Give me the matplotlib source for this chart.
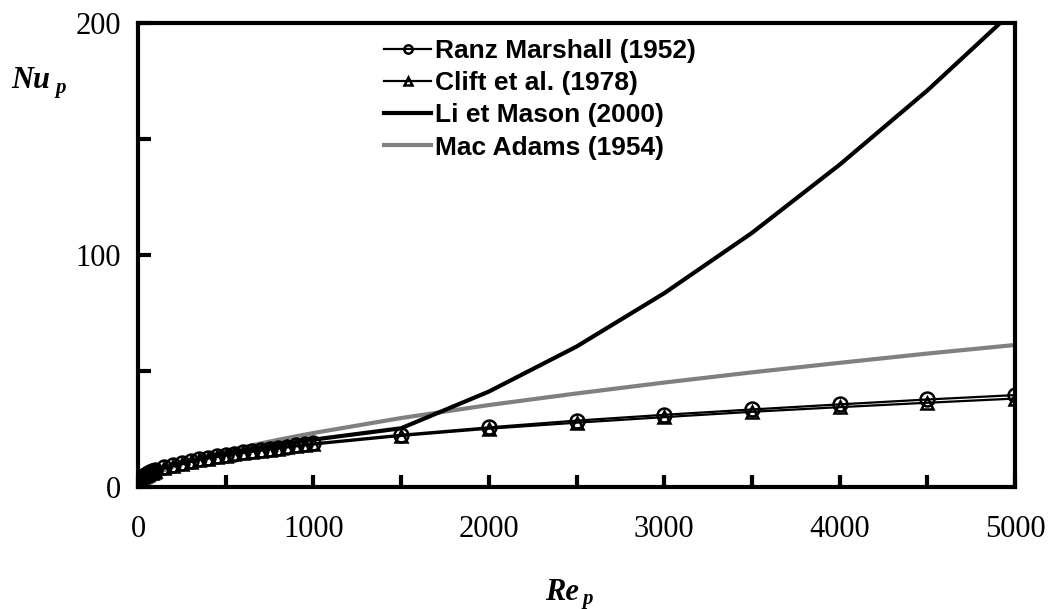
import numpy as np
import matplotlib
matplotlib.use('Agg')
import matplotlib.pyplot as plt
from matplotlib.ticker import MultipleLocator

# Re_p sampling points
re_pts = [1, 5, 10, 20, 30, 40, 50, 60, 70, 80, 90, 100, 150, 200, 250, 300, 350,
          400, 450, 500, 550, 600, 650, 700, 750, 800, 850, 900, 950, 1000,
          1500, 2000, 2500, 3000, 3500, 4000, 4500, 5000]

ranz = [2.53, 3.19, 3.69, 4.38, 4.92, 5.37, 5.77, 6.13, 6.46, 6.77, 7.06, 7.33, 8.53,
        9.54, 10.43, 11.23, 11.97, 12.66, 13.31, 13.92, 14.50, 15.06, 15.59, 16.10,
        16.60, 17.08, 17.54, 17.99, 18.43, 18.86,
        22.6, 25.8, 28.7, 31.2, 33.5, 35.7, 37.8, 39.7]

clift = [2.2, 2.8, 3.2, 3.9, 4.4, 4.8, 5.2, 5.6, 5.96, 6.28, 6.59, 6.87, 8.11,
         9.14, 10.05, 10.86, 11.61, 12.30, 12.94, 13.55, 14.13, 14.68, 15.21, 15.71,
         16.20, 16.67, 17.13, 17.57, 17.99, 18.41,
         22.1, 25.2, 27.8, 30.2, 32.5, 34.5, 36.4, 38.2]

li_mason = [2.53, 3.19, 3.69, 4.38, 4.92, 5.37, 5.77, 6.13, 6.46, 6.77, 7.06, 7.33, 8.53,
            9.51, 10.49, 11.39, 12.24, 13.02, 13.77, 14.49, 15.18, 15.85, 16.48, 17.10,
            17.70, 18.29, 18.86, 19.42, 19.97, 20.50,
            25.4, 41.2, 60.6, 83.6, 109.6, 139.0, 171.0, 206.0]

re_mac = [20, 50, 100, 200, 300, 400, 500, 600, 700, 800, 900, 1000,
          1500, 2000, 2500, 3000, 3500, 4000, 4500, 5000]
mac_adams = [2.23, 3.87, 5.86, 8.89, 11.34, 13.47, 15.40, 17.19, 18.86, 20.43, 21.91, 23.35,
             29.8, 35.4, 40.4, 45.1, 49.5, 53.6, 57.6, 61.3]

fig = plt.figure(figsize=(10.53, 6.09), dpi=100)
ax = fig.add_axes([0.131, 0.200, 0.833, 0.762])

ax.plot(re_mac, mac_adams, color='#808080', lw=3, zorder=1, label='Mac Adams (1954)')
ax.plot(re_pts, ranz, color='black', lw=1.6, marker='o', ms=10, mfc='none', mec='black',
        mew=1.8, zorder=3, label='Ranz Marshall (1952)')
ax.plot(re_pts, clift, color='black', lw=1.6, marker='^', ms=9, mfc='none', mec='black',
        mew=1.8, zorder=3, label='Clift et al. (1978)')
ax.plot(re_pts, li_mason, color='black', lw=3, zorder=2, label='Li et Mason (2000)')

ax.set_xlim(0, 5000)
ax.set_ylim(0, 200)
ax.xaxis.set_major_locator(MultipleLocator(1000))
ax.xaxis.set_minor_locator(MultipleLocator(500))
ax.yaxis.set_major_locator(MultipleLocator(100))
ax.yaxis.set_minor_locator(MultipleLocator(50))
ax.tick_params(which='both', direction='in', length=9, width=3, labelsize=22, pad=20)
ax.tick_params(axis='y', pad=12)
for lab in ax.get_xticklabels() + ax.get_yticklabels():
    lab.set_family('Liberation Serif')
for sp in ax.spines.values():
    sp.set_linewidth(3)

h, l = ax.get_legend_handles_labels()
order = [1, 2, 3, 0]
leg = ax.legend([h[i] for i in order], [l[i] for i in order], loc='upper left',
                bbox_to_anchor=(0.342, 0.975), bbox_transform=fig.transFigure,
                frameon=False, handlelength=1.8, handletextpad=0.15, labelspacing=0.31,
                markerscale=0.6, prop={'family': 'Liberation Sans', 'weight': 'bold', 'size': 19})

fig.text(0.011, 0.855, 'Nu', family='Liberation Serif', weight='bold', style='italic', fontsize=22)
fig.text(0.053, 0.847, 'p', family='Liberation Serif', weight='bold', style='italic', fontsize=15)
fig.text(0.518, 0.015, 'Re', family='Liberation Serif', weight='bold', style='italic', fontsize=22)
fig.text(0.553, 0.008, 'p', family='Liberation Serif', weight='bold', style='italic', fontsize=15)

fig.savefig('out.png', dpi=100)
